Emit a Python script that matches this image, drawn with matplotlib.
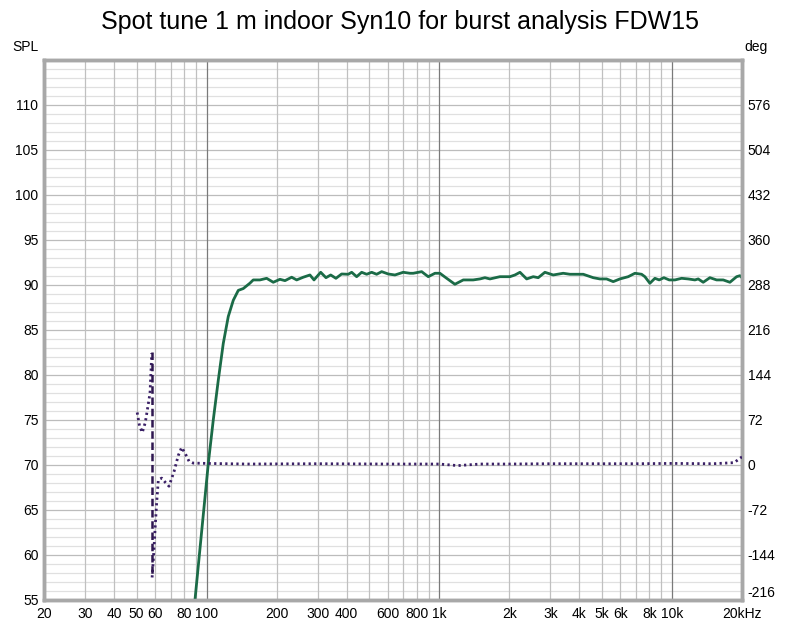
import matplotlib.pyplot as plt
import numpy as np

plt.rcParams['font.family'] = ['Liberation Sans', 'DejaVu Sans']
plt.rcParams['axes.unicode_minus'] = False

# --- data ---
# SPL trace (Hz, dB)
spl_freq = [87, 89.1, 101.7, 106.8, 112.2, 117.9, 123.9, 130.2, 136.8, 143.7, 153.5,
            158.6, 169.5, 181.1, 193.4, 206.6, 217.2, 232, 243.8, 260.2, 278, 289.4,
            309.2, 325.8, 341.4, 359.6, 380.4, 406.2, 420.2, 441.4, 463.8, 487.4, 512,
            538, 565.4, 603.6, 644.8, 700, 748, 772.8, 840, 896.6, 957.8, 1006, 1076,
            1167, 1268, 1399, 1495, 1571, 1651, 1822, 2012, 2114, 2222, 2374, 2534,
            2662, 2844, 3088, 3408, 3642, 4156, 4588, 4902, 5238, 5592, 5974, 6486,
            6930, 7404, 7650, 8038, 8446, 8814, 9234, 9732, 10296, 11002, 11744,
            12552, 12968, 13624, 14556, 15554, 16606, 17744, 18960, 19590, 20000]
spl_db = [52.3, 55.0, 70.2, 75.0, 79.4, 83.5, 86.5, 88.3, 89.4, 89.6, 90.2,
          90.56, 90.56, 90.74, 90.30, 90.63, 90.48, 90.86, 90.56, 90.86, 91.11, 90.56,
          91.41, 90.81, 91.11, 90.74, 91.22, 91.19, 91.41, 90.92, 91.41, 91.19, 91.41,
          91.19, 91.48, 91.22, 91.11, 91.41, 91.30, 91.30, 91.48, 90.92, 91.30, 91.30, 90.74,
          90.08, 90.56, 90.56, 90.67, 90.81, 90.67, 90.92, 90.92, 91.11, 91.41, 90.67, 90.92,
          90.81, 91.41, 91.11, 91.30, 91.19, 91.19, 90.81, 90.67, 90.67, 90.37, 90.67, 90.92,
          91.30, 91.19, 90.92, 90.19, 90.74, 90.56, 90.81, 90.56, 90.56, 90.74, 90.67,
          90.56, 90.67, 90.30, 90.81, 90.56, 90.56, 90.30, 90.92, 91.03, 90.81]

# phase trace (Hz, deg), split at the wrap
ph_freq_a = [50.3, 51.5, 52.9, 54.5, 56.0, 57.1, 58.1]
ph_deg_a = [84, 62, 52, 68, 95, 115, 179]
wrap_freq = 58.2
ph_freq_b = [58.3, 59.0, 60.0, 61.0, 62.0, 64.1, 66.5, 68.9, 72.5, 75.5, 78.1, 81.0,
             84.0, 87.6, 100, 150, 300, 600, 1000, 1200, 1500, 2000, 3000, 5000,
             7000, 10000, 15000, 18500, 20000]
ph_deg_b = [-180, -152, -104, -60, -24, -21, -28, -34, -10, 15, 28, 18,
            6, 3, 2.5, 1.5, 2, 1.5, 1.5, -1, 1.5, 1.5, 2, 2,
            2, 2.5, 2, 3.7, 13]

xticks = [20, 30, 40, 50, 60, 80, 100, 200, 300, 400, 600, 800, 1000, 2000, 3000,
          4000, 5000, 6000, 8000, 10000, 20000]
xlabels = ['20', '30', '40', '50', '60', '80', '100', '200', '300', '400', '600', '800',
           '1k', '2k', '3k', '4k', '5k', '6k', '8k', '10k', '20kHz']
grid_minor = [f * m for m in (10, 100, 1000) for f in range(2, 10)] + [20000]
grid_major = [100, 1000, 10000]

fig = plt.figure(figsize=(8, 6.24), dpi=100)
ax = fig.add_axes([0.055, 0.0385, 0.8725, 0.8654])
ax.set_xscale('log')
ax.set_xlim(20, 20000)
ax.set_ylim(55, 115)

# grid
for y in range(55, 116):
    ax.axhline(y, color='#bcbcbc' if y % 5 == 0 else '#e0e0e0', lw=0.9, zorder=0)
for f in grid_minor:
    ax.axvline(f, color='#c0c0c0', lw=0.9, zorder=0)
for f in grid_major:
    ax.axvline(f, color='#7a7a7a', lw=0.9, zorder=0)

ax.plot(spl_freq, spl_db, color='#1b6b47', lw=2, zorder=4,
        solid_joinstyle='round', solid_capstyle='round')

ax.set_xticks(xticks)
ax.set_xticklabels(xlabels)
ax.xaxis.set_minor_locator(plt.NullLocator())
ax.set_yticks(range(55, 115, 5))
ax.tick_params(axis='both', length=0, labelsize=10, colors='black')
ax.tick_params(axis='x', pad=5)
ax.tick_params(axis='y', pad=4)

ax2 = ax.twinx()
ax2.set_ylim(-216, 648)
ax2.set_yticks(range(-216, 648, 72))
ax2.tick_params(axis='y', length=0, labelsize=10, pad=4)
ax2.plot(ph_freq_a, ph_deg_a, color='#3a2066', lw=2, ls=(0, (0.8, 1.2)), zorder=3)
ax2.plot(ph_freq_b, ph_deg_b, color='#3a2066', lw=2, ls=(0, (0.8, 1.2)), zorder=3)
ax2.plot([wrap_freq, wrap_freq], [180, -180], color='#2e1650', lw=1.8, ls=(0, (3, 1.5)), zorder=3)
# lowest right-hand label sits a little higher, clear of "20kHz"
ax2.get_yticklabels()[0].set_va('bottom')

for a in (ax, ax2):
    for s in a.spines.values():
        s.set_color('#a8a8a8')
        s.set_linewidth(2.5)

fig.text(0.5, 0.964, 'Spot tune 1 m indoor Syn10 for burst analysis FDW15',
         ha='center', va='center', fontsize=18)
fig.text(0.032, 0.925, 'SPL', ha='center', va='center', fontsize=10)
fig.text(0.945, 0.925, 'deg', ha='center', va='center', fontsize=10)

fig.savefig('out.png', dpi=100)
